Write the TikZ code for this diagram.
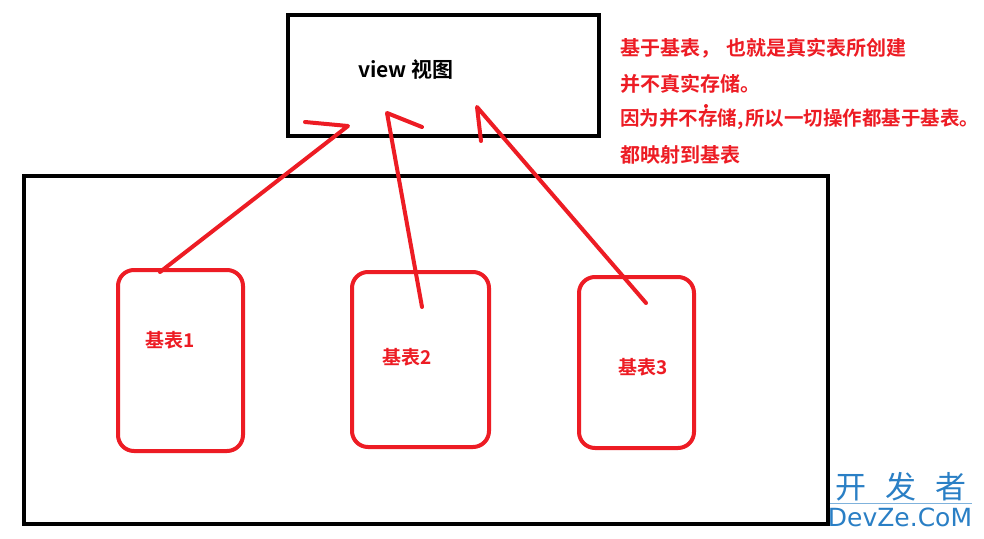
\documentclass[tikz,border=0pt]{standalone}
\usepackage{fontspec}
\newfontfamily\cjk{Noto Sans CJK SC}[BoldFont={Noto Sans CJK SC Bold}]
\definecolor{pred}{HTML}{ED1C24}
\definecolor{wmblue}{HTML}{2A7FC5}
\begin{document}
\begin{tikzpicture}[x=1pt,y=-1pt,
  blackbox/.style={draw=black,line width=4pt,minimum width=#1,inner sep=0},
  redbox/.style={draw=pred,line width=4pt,rounded corners=16pt,inner sep=0},
  redline/.style={draw=pred,line width=4pt,line cap=round,line join=round},
  redtxt/.style={text=pred,font=\cjk\bfseries\fontsize{20}{22}\selectfont,inner sep=0},
  tbl/.style={text=pred,font=\cjk\bfseries\fontsize{19}{22}\selectfont,inner sep=0}]
\useasboundingbox (0,0) rectangle (984,538);
\fill[white] (0,0) rectangle (984,538);
% boxes
\node[blackbox=311pt,minimum height=121pt] (view) at (443.5,75.5) {};
\node[blackbox=804pt,minimum height=348pt] (outer) at (426,350) {};
\node[redbox,minimum width=125pt,minimum height=181pt] (b1) at (180.5,360.5) {};
\node[redbox,minimum width=137pt,minimum height=175pt] (b2) at (420.5,359.5) {};
\node[redbox,minimum width=115pt,minimum height=171pt] (b3) at (636.5,362.5) {};
% labels
\node[inner sep=0,font=\cjk\bfseries\fontsize{21}{23}\selectfont] (vt) at (406,70) {view 视图};
\node[tbl] (t1) at (170,340) {基表1};
\node[tbl] (t2) at (407,357) {基表2};
\node[tbl] (t3) at (643,367) {基表3};
% side text
\node[redtxt,anchor=west] (l1) at (620,48) {基于基表，\hspace{0.3em}也就是真实表所创建};
\node[redtxt,anchor=west] (l2) at (620,84) {并不真实存储。};
\node[redtxt,anchor=west,font=\cjk\bfseries\fontsize{19.5}{22}\selectfont] (l3) at (620,119) {因为并不存储,\hspace{0.1em}所以一切操作都基于基表。};
\node[redtxt,anchor=west] (l4) at (620,155) {都映射到基表};
\fill[pred] (706,106) circle (2pt);
% hand drawn arrows
\coordinate (a1s) at (160,272);
\coordinate (a1t) at (348,126);
\coordinate (a1h) at (305,122);
\draw[redline] (a1s) -- (a1t) -- (a1h);
\coordinate (a2s) at (422,307);
\coordinate (a2t) at (387,113);
\coordinate (a2h) at (422,127);
\draw[redline] (a2s) -- (a2t) -- (a2h);
\coordinate (a3s) at (646,303);
\coordinate (a3t) at (477,107);
\coordinate (a3h) at (481,141);
\draw[redline] (a3s) -- (a3t) -- (a3h);
% watermark
\node[text=wmblue,inner sep=0,font=\cjk\fontsize{31}{32}\selectfont] (wm1) at (901,487) {开\hspace{0.6em}发\hspace{0.6em}者};
\draw[wmblue!60,line width=0.8pt] (830,503) coordinate (wl1) -- (972,503) coordinate (wl2);
\node[text=wmblue,inner sep=0,font=\fontspec{DejaVu Sans}\fontsize{25}{27}\selectfont] (wm2) at (900,517) {DevZe.CoM};
\end{tikzpicture}
\end{document}
